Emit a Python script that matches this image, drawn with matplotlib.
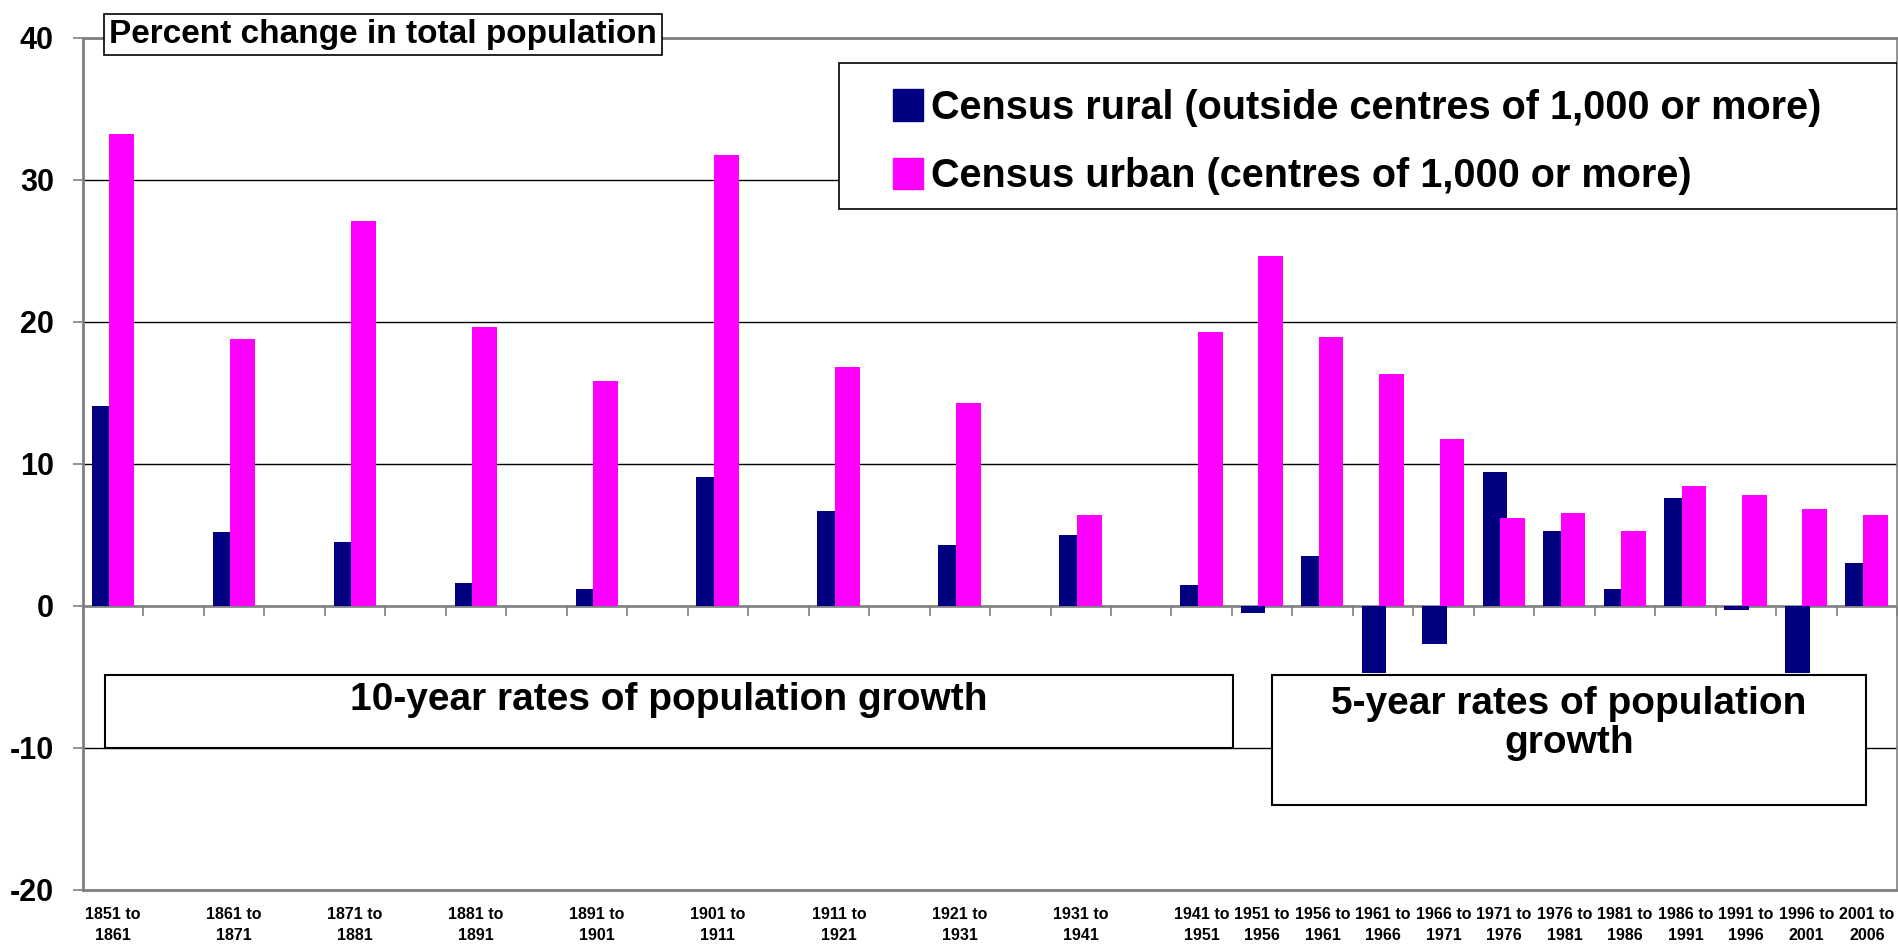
import matplotlib
matplotlib.use("Agg")
import matplotlib.pyplot as plt
from matplotlib.patches import Rectangle, Patch
import numpy as np

plt.rcParams["font.family"] = ["Liberation Sans", "DejaVu Sans"]
plt.rcParams["font.weight"] = "bold"
plt.rcParams["axes.unicode_minus"] = False

# census periods, in order
periods = ["1851 to\n1861", "1861 to\n1871", "1871 to\n1881", "1881 to\n1891",
           "1891 to\n1901", "1901 to\n1911", "1911 to\n1921", "1921 to\n1931",
           "1931 to\n1941", "1941 to\n1951", "1951 to\n1956", "1956 to\n1961",
           "1961 to\n1966", "1966 to\n1971", "1971 to\n1976", "1976 to\n1981",
           "1981 to\n1986", "1986 to\n1991", "1991 to\n1996", "1996 to\n2001",
           "2001 to\n2006"]
span_years = [10] * 10 + [5] * 11

# percent change
rural = [14.1, 5.2, 4.5, 1.6, 1.2, 9.1, 6.7, 4.3, 5.0, 1.5,
         -0.5, 3.5, -4.7, -2.7, 9.4, 5.3, 1.2, 7.6, -0.3, -4.7, 3.0]
urban = [33.2, 18.8, 27.1, 19.6, 15.8, 31.7, 16.8, 14.3, 6.4, 19.3,
         24.6, 18.9, 16.3, 11.75, 6.2, 6.5, 5.3, 8.4, 7.8, 6.8, 6.4]

rural_label = "Census rural (outside centres of 1,000 or more)"
urban_label = "Census urban (centres of 1,000 or more)"
NAVY = "#000080"
MAGENTA = "#FF00FF"
GREY = "#808080"

# 10-year periods leave an empty slot between them, 5-year ones don't
pos = [0]
for i in range(1, len(periods)):
    step = 2 if (span_years[i - 1] == 10 and span_years[i] == 10) else 1
    pos.append(pos[-1] + step)
pos = np.array(pos, dtype=float)
n_slots = int(pos[-1]) + 1

fig = plt.figure(figsize=(18.99, 9.48), dpi=100)
ax = fig.add_axes([0.0437, 0.0612, 0.9553, 0.8992])

w = 0.41
ax.bar(pos - 0.15, rural, width=w, color=NAVY, zorder=3)
ax.bar(pos + 0.14, urban, width=w, color=MAGENTA, zorder=4)

ax.set_xlim(-0.5, n_slots - 0.5)
ax.set_ylim(-20, 40)
ax.set_yticks(np.arange(-20, 41, 10))
ax.tick_params(axis="y", labelsize=22, length=7, width=1.2, color=GREY, pad=14)
ax.set_xticks(pos)
ax.set_xticklabels(periods, fontsize=11.5, linespacing=1.55)
ax.tick_params(axis="x", length=0, pad=12)

ax.yaxis.grid(True, color="black", lw=1)
ax.set_axisbelow(True)
for s in ax.spines.values():
    s.set_color(GREY)
    s.set_linewidth(2)
ax.spines["right"].set_linewidth(1.2)

# category axis sits at zero
ax.axhline(0, color=GREY, lw=1.8, zorder=2)
sec = ax.secondary_xaxis(1 / 3)
sec.set_xticks(np.arange(-0.5, n_slots, 1))
sec.tick_params(length=7, width=1.2, color=GREY, labelbottom=False, direction="out")
sec.spines["bottom"].set_visible(False)

# title box
ax.text(0.1656, 1.004, "Percent change in total population", transform=ax.transAxes,
        fontsize=24, ha="center", va="center", zorder=10, clip_on=False,
        bbox=dict(boxstyle="square,pad=0.15", fc="white", ec="black", lw=1.2))

# legend
ax.add_patch(Rectangle((0.4166, 0.799), 0.5834, 0.171, transform=ax.transAxes,
                       fc="white", ec="black", lw=1.2, zorder=8))
handles = [Patch(color=NAVY, label=rural_label), Patch(color=MAGENTA, label=urban_label)]
ax.legend(handles=handles, loc="upper left", bbox_to_anchor=(0.4465, 0.94),
          frameon=False, fontsize=28.5, handlelength=0.75, handleheight=0.85,
          handletextpad=0.2, labelspacing=0.77, borderpad=0, borderaxespad=0
          ).set_zorder(9)

# period boxes
ax.add_patch(Rectangle((-0.14, -10.0), 18.66, 5.1, fc="white", ec="black", lw=1.5, zorder=6))
ax.text(9.19, -6.65, "10-year rates of population growth", fontsize=28,
        ha="center", va="center", zorder=7)
ax.add_patch(Rectangle((19.16, -14.0), 9.82, 9.1, fc="white", ec="black", lw=1.5, zorder=6))
ax.text(24.07, -8.3, "5-year rates of population\ngrowth", fontsize=28,
        ha="center", va="center", linespacing=1.1, zorder=7)

fig.savefig("out.png", dpi=100)
